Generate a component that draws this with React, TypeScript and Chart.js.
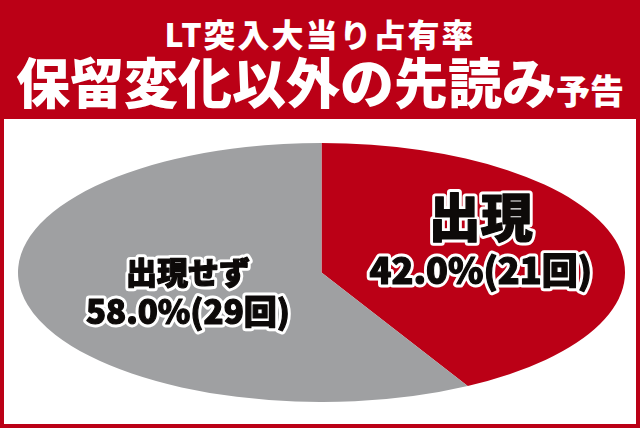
import React, { useEffect, useRef } from 'react';
import { Chart, ChartConfiguration, Plugin, registerables } from 'chart.js';

Chart.register(...registerables);

// data
const categories = ['出現', '出現せず'];
const counts = [21, 29];
const shares = [42.0, 58.0];

const titleLine1 = 'LT突入大当り占有率';
const titleLine2 = '保留変化以外の先読み';
const titleSuffix = '予告';

const RED = '#bb0016';
const GRAY = '#9fa0a2';
const INK = '#0d0a09';
const JP_FONT = '"Noto Sans CJK JP", "Noto Sans", sans-serif';

// label placement as fractions of the ellipse radii (x, y of line 1 / line 2)
const labelLayout = [
    { fx: 0.525, fy1: -0.43, fy2: -0.02, size1: 52, size2: 36 },
    { fx: -0.44, fy1: 0.0, fy2: 0.3, size1: 31, size2: 33 },
];

// stretch the round pie into an ellipse filling the chart area
const ellipsePlugin: Plugin = {
    id: 'ellipse',
    beforeDatasetsDraw(chart) {
        const { left, right, top, bottom } = chart.chartArea;
        const cx = (left + right) / 2;
        const cy = (top + bottom) / 2;
        const sx = (right - left) / (bottom - top);
        const ctx = chart.ctx;
        ctx.save();
        ctx.translate(cx, cy);
        ctx.scale(sx, 1);
        ctx.translate(-cx, -cy);
    },
    afterDatasetsDraw(chart) {
        chart.ctx.restore();
    },
};

const labelPlugin: Plugin = {
    id: 'sliceLabels',
    afterDraw(chart) {
        const { left, right, top, bottom } = chart.chartArea;
        const cx = (left + right) / 2;
        const cy = (top + bottom) / 2;
        const rx = (right - left) / 2;
        const ry = (bottom - top) / 2;
        const ctx = chart.ctx;
        const drawOutlined = (text: string, x: number, y: number, size: number) => {
            ctx.font = `900 ${size}px ${JP_FONT}`;
            ctx.textAlign = 'center';
            ctx.textBaseline = 'middle';
            ctx.lineJoin = 'round';
            ctx.lineWidth = 7;
            ctx.strokeStyle = '#ffffff';
            ctx.strokeText(text, x, y);
            ctx.fillStyle = INK;
            ctx.fillText(text, x, y);
            // a thin dark pass to thicken the strokes a little
            ctx.lineWidth = 1.2;
            ctx.strokeStyle = INK;
            ctx.strokeText(text, x, y);
        };
        ctx.save();
        categories.forEach((cat, i) => {
            const l = labelLayout[i];
            const x = cx + l.fx * rx;
            drawOutlined(cat, x, cy + l.fy1 * ry, l.size1);
            drawOutlined(`${shares[i].toFixed(1)}%(${counts[i]}回)`, x, cy + l.fy2 * ry, l.size2);
        });
        ctx.restore();
    },
};

const EllipsePie: React.FC = () => {
    const canvasRef = useRef<HTMLCanvasElement>(null);

    useEffect(() => {
        if (!canvasRef.current) return;
        const config: ChartConfiguration<'pie'> = {
            type: 'pie',
            data: {
                labels: categories,
                datasets: [{
                    data: counts,
                    backgroundColor: [RED, GRAY],
                    borderWidth: 0,
                    hoverOffset: 0,
                }],
            },
            options: {
                animation: false,
                responsive: true,
                maintainAspectRatio: false,
                events: [],
                layout: { padding: 0 },
                plugins: {
                    legend: { display: false },
                    tooltip: { enabled: false },
                },
            },
            plugins: [ellipsePlugin, labelPlugin],
        };
        const chart = new Chart(canvasRef.current, config);
        return () => chart.destroy();
    }, []);

    return (
        <div style={{ position: 'absolute', left: 18, top: 143, width: 607, height: 259 }}>
            <canvas ref={canvasRef} />
        </div>
    );
};

const App: React.FC = () => {
    return (
        <div style={{ position: 'relative', width: 640, height: 428, background: RED, fontFamily: JP_FONT, overflow: 'hidden' }}>
            <style>{'body{margin:0}'}</style>
            <div style={{
                position: 'absolute', top: 17, left: 0, width: 640, textAlign: 'center',
                color: '#fff', fontWeight: 900, fontSize: 32, lineHeight: 1, letterSpacing: 2,
            }}>
                {titleLine1}
            </div>
            <div style={{
                position: 'absolute', top: 54, left: 0, width: 640, display: 'flex',
                justifyContent: 'center', alignItems: 'baseline', color: '#fff', fontWeight: 900, lineHeight: 1,
            }}>
                <span style={{ fontSize: 54 }}>{titleLine2}</span>
                <span style={{ fontSize: 34 }}>{titleSuffix}</span>
            </div>
            <div style={{ position: 'absolute', left: 4, top: 119, width: 632, height: 305, background: '#fff' }} />
            <EllipsePie />
        </div>
    );
};

export default App;
